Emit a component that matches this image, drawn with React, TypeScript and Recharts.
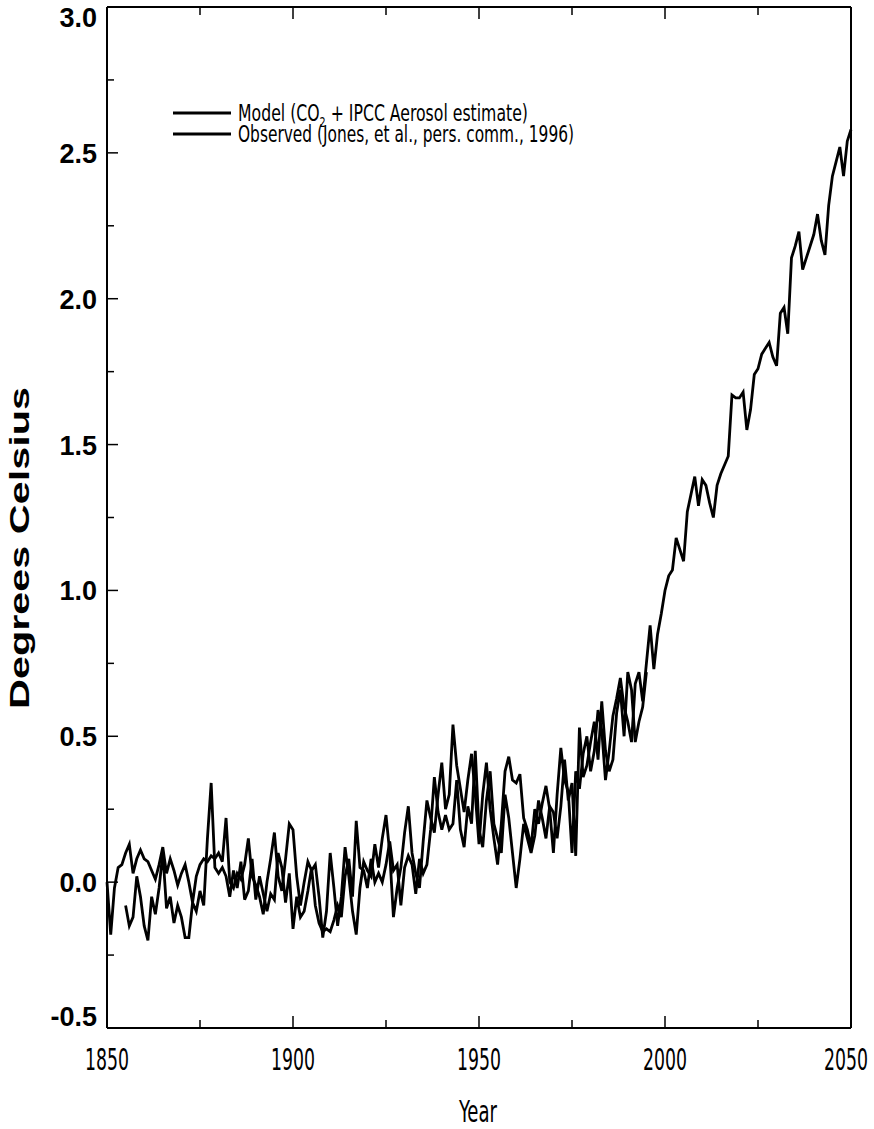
import { LineChart, Line, XAxis, YAxis, Legend } from 'recharts'

// annual values, model starts 1850, observed starts 1855
const modelStart = 1850
const modelValues = [
  0.0, -0.18, -0.02, 0.05, 0.06, 0.1, 0.13, 0.03, 0.08, 0.11,
  0.08, 0.07, 0.04, 0.01, 0.06, 0.12, 0.03, 0.08, 0.04, -0.01,
  0.03, 0.06, 0.0, -0.07, 0.02, 0.06, 0.08, 0.07, 0.09, 0.08,
  0.1, 0.07, 0.22, 0.0, -0.02, 0.03, 0.01, 0.06, 0.15, 0.02,
  -0.01, -0.05, -0.11, 0.0, 0.08, 0.17, 0.02, -0.03, 0.08, 0.2,
  0.18, 0.02, -0.08, 0.0, 0.07, 0.04, 0.06, -0.05, -0.19, -0.1,
  0.1, -0.02, -0.15, -0.05, 0.12, 0.02, -0.1, -0.18, -0.02, 0.07,
  0.04, 0.02, 0.13, 0.05, 0.15, 0.23, 0.1, -0.12, -0.02, 0.05,
  0.17, 0.26, 0.1, 0.03, -0.02, 0.14, 0.28, 0.22, 0.17, 0.3,
  0.41, 0.25, 0.3, 0.54, 0.4, 0.32, 0.24, 0.35, 0.44, 0.3,
  0.13, 0.3, 0.41, 0.25, 0.15, 0.06, 0.2, 0.38, 0.43, 0.35,
  0.34, 0.37, 0.22, 0.18, 0.12, 0.25, 0.2, 0.27, 0.33, 0.25,
  0.1, 0.3, 0.46, 0.35, 0.31, 0.1, 0.38, 0.32, 0.44, 0.5,
  0.38, 0.45, 0.59, 0.52, 0.35, 0.45, 0.57, 0.63, 0.7, 0.6,
  0.55, 0.48, 0.68, 0.72, 0.62, 0.75, 0.88, 0.73, 0.85, 0.92,
  1.0, 1.05, 1.07, 1.18, 1.14, 1.1, 1.27, 1.33, 1.39, 1.29,
  1.38, 1.36, 1.3, 1.25, 1.36, 1.4, 1.43, 1.46, 1.67, 1.66,
  1.66, 1.68, 1.55, 1.62, 1.74, 1.76, 1.81, 1.83, 1.85, 1.8,
  1.77, 1.95, 1.97, 1.88, 2.14, 2.18, 2.23, 2.1, 2.14, 2.18,
  2.22, 2.29, 2.2, 2.15, 2.32, 2.42, 2.47, 2.52, 2.42, 2.54,
  2.58,
]

const observedStart = 1855
const observedValues = [
  -0.08, -0.15, -0.12, 0.02, -0.05,
  -0.15, -0.2, -0.05, -0.11, -0.02, 0.1, -0.09, -0.05, -0.14, -0.08,
  -0.12, -0.19, -0.19, -0.07, -0.1, -0.03, -0.08, 0.15, 0.34, 0.05,
  0.03, 0.05, 0.02, -0.05, 0.04, -0.02, 0.07, -0.06, -0.03, 0.08,
  -0.06, 0.02, -0.04, -0.1, -0.04, -0.06, 0.1, 0.05, -0.07, 0.03,
  -0.16, -0.05, -0.12, -0.1, -0.03, 0.05, -0.08, -0.14, -0.17, -0.16,
  -0.17, -0.13, -0.08, -0.12, 0.02, 0.08, -0.05, 0.21, 0.05, 0.04,
  -0.02, 0.08, 0.0, 0.03, 0.0, 0.06, 0.14, 0.04, 0.06, -0.08,
  0.05, 0.09, 0.06, -0.04, 0.08, 0.03, 0.06, 0.18, 0.36, 0.24,
  0.18, 0.23, 0.18, 0.2, 0.35, 0.18, 0.12, 0.26, 0.2, 0.45,
  0.18, 0.12, 0.28, 0.38, 0.2, 0.15, 0.1, 0.3, 0.22, 0.1,
  -0.02, 0.08, 0.2, 0.15, 0.1, 0.16, 0.28, 0.22, 0.15, 0.26,
  0.24, 0.15, 0.26, 0.42, 0.28, 0.34, 0.09, 0.53, 0.36, 0.4,
  0.48, 0.55, 0.42, 0.62, 0.45, 0.38, 0.42, 0.58, 0.66, 0.5,
  0.72, 0.66, 0.48, 0.55, 0.6, 0.72,
]

const xTicks = [1850, 1875, 1900, 1925, 1950, 1975, 2000, 2025, 2050]
const xLabels = [1850, 1900, 1950, 2000, 2050]
const yTicks = [-0.5, -0.25, 0, 0.25, 0.5, 0.75, 1, 1.25, 1.5, 1.75, 2, 2.25, 2.5, 2.75, 3]
const yLabels = [-0.5, 0, 0.5, 1, 1.5, 2, 2.5, 3]

const legendItems = ['Model', 'Observed']

const data = modelValues.map((m, i) => {
  const year = modelStart + i
  const oi = year - observedStart
  return {
    year,
    model: m,
    observed: oi >= 0 && oi < observedValues.length ? observedValues[oi] : undefined,
  }
})

const narrow = "'Liberation Sans Narrow', 'DejaVu Sans Condensed', 'Liberation Sans', sans-serif"
const sans = "'Liberation Sans', Arial, sans-serif"

function BottomTick({ x, y, payload }: any) {
  const v = payload.value
  const major = xLabels.includes(v)
  return (
    <g>
      <line x1={x} y1={y} x2={x} y2={y - (major ? 12 : 8)} stroke="#000" strokeWidth={1.5} />
      {major && (
        <text x={v === 2050 ? x - 5 : x} y={y + 42} textAnchor="middle" fontFamily={narrow} fontSize={30}
          textLength={44} lengthAdjust="spacingAndGlyphs" fill="#000">
          {v}
        </text>
      )}
    </g>
  )
}

function TopTick({ x, y, payload }: any) {
  const major = xLabels.includes(payload.value)
  return <line x1={x} y1={y} x2={x} y2={y + (major ? 12 : 8)} stroke="#000" strokeWidth={1.5} />
}

function LeftTick({ x, y, payload }: any) {
  const v = payload.value
  const major = yLabels.includes(v)
  let shift = 0
  if (v === 3) shift = 10
  if (v === -0.5) shift = -12
  return (
    <g>
      <line x1={x} y1={y} x2={x + (major ? 11 : 7)} y2={y} stroke="#000" strokeWidth={1.5} />
      {major && (
        <text x={x - 10} y={y + shift + 10} textAnchor="end" fontFamily={sans} fontWeight="bold"
          fontSize={27} fill="#000">
          {v.toFixed(1)}
        </text>
      )}
    </g>
  )
}

function RightTick({ x, y, payload }: any) {
  const major = yLabels.includes(payload.value)
  return <line x1={x} y1={y} x2={x - (major ? 11 : 7)} y2={y} stroke="#000" strokeWidth={1.5} />
}

function LegendBox() {
  return (
    <svg width={540} height={52}>
      <line x1={1} y1={12} x2={59} y2={12} stroke="#000" strokeWidth={3} />
      <text x={66} y={20} fontFamily={narrow} fontSize={23} fill="#000" textLength={290}
        lengthAdjust="spacingAndGlyphs">
        {legendItems[0]} (CO<tspan fontSize={14} dy={6}>2</tspan><tspan dy={-6}> + IPCC Aerosol estimate)</tspan>
      </text>
      <line x1={1} y1={33} x2={59} y2={33} stroke="#000" strokeWidth={3} />
      <text x={66} y={41} fontFamily={narrow} fontSize={23} fill="#000" textLength={336}
        lengthAdjust="spacingAndGlyphs">
        {legendItems[1]} (Jones, et al., pers. comm., 1996)
      </text>
    </svg>
  )
}

export default function App() {
  return (
    <div style={{ position: 'absolute', left: 0, top: 0, background: '#fff' }}>
      <LineChart width={874} height={1129} data={data}
        margin={{ top: 6, right: 22, bottom: 0, left: 0 }}>
        <XAxis dataKey="year" type="number" domain={[1850, 2050]} ticks={xTicks} interval={0}
          height={101} tickSize={0} tickMargin={0} tick={<BottomTick />}
          axisLine={{ stroke: '#000', strokeWidth: 2 }} tickLine={false}
          label={() => (
            <text x={478} y={1122} textAnchor="middle" fontFamily={narrow} fontSize={30}
              textLength={38} lengthAdjust="spacingAndGlyphs" fill="#000">Year</text>
          )} />
        <XAxis xAxisId="top" orientation="top" dataKey="year" type="number" domain={[1850, 2050]}
          ticks={xTicks} interval={0} height={1} tickSize={0} tickMargin={0} tick={<TopTick />}
          axisLine={{ stroke: '#000', strokeWidth: 2 }} tickLine={false} />
        <YAxis type="number" domain={[-0.5, 3]} ticks={yTicks} interval={0} width={107}
          tickSize={0} tickMargin={0} tick={<LeftTick />}
          axisLine={{ stroke: '#000', strokeWidth: 2 }} tickLine={false}
          label={() => (
            <text x={29} y={548} transform="rotate(-90, 29, 548)" textAnchor="middle"
              fontFamily={sans} fontWeight="bold" fontSize={28} fill="#000"
              textLength={322} lengthAdjust="spacingAndGlyphs">Degrees Celsius</text>
          )} />
        <YAxis yAxisId="right" orientation="right" type="number" domain={[-0.5, 3]} ticks={yTicks}
          interval={0} width={1} tickSize={0} tickMargin={0} tick={<RightTick />}
          axisLine={{ stroke: '#000', strokeWidth: 2 }} tickLine={false} />
        <Legend layout="horizontal" verticalAlign="middle" align="center" content={<LegendBox />}
          wrapperStyle={{ top: 101, left: 172, width: 540, height: 52 }} />
        <Line dataKey="model" type="linear" stroke="#000" strokeWidth={2.8} dot={false}
          isAnimationActive={false} legendType="none" />
        <Line dataKey="observed" type="linear" stroke="#000" strokeWidth={2.8} dot={false}
          isAnimationActive={false} legendType="none" />
      </LineChart>
    </div>
  )
}
